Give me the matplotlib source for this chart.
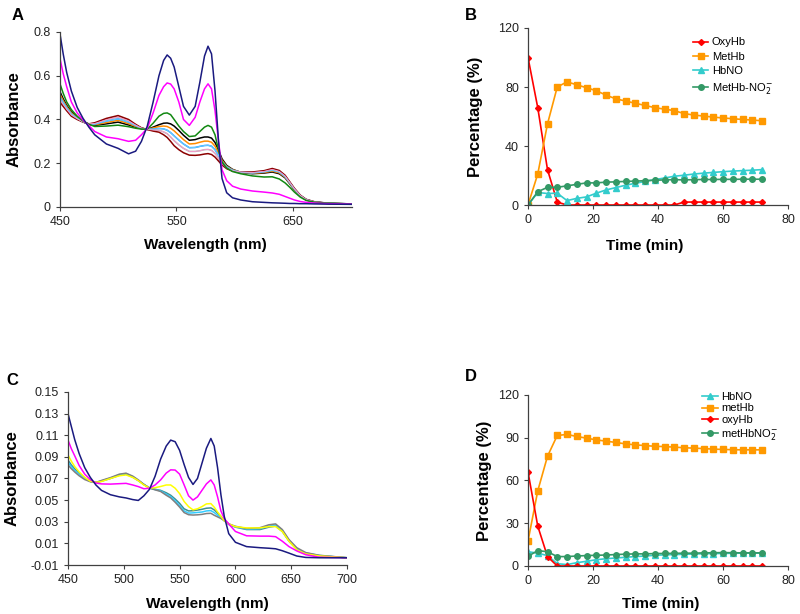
import matplotlib
matplotlib.use("Agg")
import matplotlib.pyplot as plt

plt.rcParams['font.family'] = ['Liberation Sans', 'DejaVu Sans']

# ---------------------------------------------------------------------------
# Panel A: espectros (absorbancia vs longitud de onda)
wl_a = [450, 453, 456, 460, 465, 470, 475, 480, 490, 500, 509, 515, 520, 525, 530,
        535, 539, 542, 545, 548, 552, 556, 561, 566, 570, 574, 577, 580, 583, 586,
        589, 593, 598, 605, 615, 625, 632, 638, 643, 647, 651, 656, 661, 668, 680, 700]
a_navy = [0.80, 0.70, 0.615, 0.53, 0.455, 0.405, 0.365, 0.33, 0.288, 0.268,
          0.243, 0.255, 0.30, 0.37, 0.48, 0.60, 0.67, 0.695, 0.68, 0.64,
          0.55, 0.46, 0.42, 0.46, 0.57, 0.69, 0.735, 0.70, 0.53, 0.30,
          0.13, 0.065, 0.042, 0.032, 0.024, 0.021, 0.019, 0.018, 0.017, 0.016,
          0.016, 0.015, 0.015, 0.014, 0.013, 0.012]
a_magenta = [0.685, 0.61, 0.55, 0.48, 0.43, 0.397, 0.372, 0.345, 0.32, 0.312,
             0.30, 0.305, 0.33, 0.36, 0.43, 0.51, 0.55, 0.567, 0.562, 0.54,
             0.48, 0.40, 0.373, 0.41, 0.48, 0.54, 0.563, 0.54, 0.44, 0.30,
             0.17, 0.12, 0.095, 0.082, 0.073, 0.068, 0.064, 0.058, 0.048, 0.040,
             0.032, 0.025, 0.021, 0.018, 0.015, 0.013]
a_green = [0.567, 0.52, 0.48, 0.445, 0.415, 0.393, 0.378, 0.368, 0.37, 0.374,
           0.367, 0.36, 0.356, 0.356, 0.383, 0.415, 0.428, 0.43, 0.422, 0.40,
           0.37, 0.345, 0.322, 0.325, 0.345, 0.365, 0.373, 0.365, 0.33, 0.26,
           0.205, 0.178, 0.162, 0.152, 0.142, 0.137, 0.138, 0.128, 0.11, 0.09,
           0.068, 0.045, 0.03, 0.022, 0.017, 0.014]
a_b1 = [0.530, 0.495, 0.465, 0.435, 0.410, 0.390, 0.378, 0.373, 0.380, 0.388,
        0.375, 0.365, 0.358, 0.355, 0.365, 0.376, 0.383, 0.384, 0.380, 0.370,
        0.350, 0.328, 0.305, 0.308, 0.315, 0.320, 0.320, 0.315, 0.295, 0.260,
        0.220, 0.190, 0.172, 0.158, 0.152, 0.155, 0.160, 0.152, 0.133, 0.106,
        0.078, 0.050, 0.032, 0.022, 0.016, 0.014]
a_b2 = [0.518, 0.486, 0.459, 0.430, 0.408, 0.390, 0.379, 0.376, 0.386, 0.396,
        0.381, 0.368, 0.359, 0.355, 0.361, 0.368, 0.370, 0.368, 0.360, 0.348,
        0.328, 0.308, 0.288, 0.290, 0.296, 0.301, 0.301, 0.296, 0.278, 0.248,
        0.213, 0.186, 0.170, 0.159, 0.154, 0.158, 0.164, 0.156, 0.136, 0.108,
        0.080, 0.051, 0.033, 0.023, 0.016, 0.014]
a_b3 = [0.505, 0.478, 0.453, 0.425, 0.405, 0.389, 0.379, 0.379, 0.393, 0.403,
        0.388, 0.372, 0.360, 0.355, 0.356, 0.359, 0.357, 0.351, 0.340, 0.325,
        0.306, 0.288, 0.271, 0.272, 0.277, 0.281, 0.282, 0.278, 0.262, 0.235,
        0.206, 0.183, 0.168, 0.159, 0.156, 0.161, 0.168, 0.160, 0.139, 0.111,
        0.082, 0.052, 0.034, 0.023, 0.017, 0.014]
a_b4 = [0.493, 0.469, 0.446, 0.420, 0.403, 0.389, 0.380, 0.382, 0.399, 0.411,
        0.394, 0.375, 0.361, 0.354, 0.352, 0.351, 0.343, 0.335, 0.320, 0.303,
        0.284, 0.268, 0.254, 0.254, 0.257, 0.262, 0.263, 0.259, 0.245, 0.223,
        0.199, 0.179, 0.166, 0.160, 0.158, 0.163, 0.172, 0.163, 0.142, 0.113,
        0.083, 0.053, 0.034, 0.024, 0.017, 0.014]
a_b5 = [0.480, 0.460, 0.440, 0.415, 0.400, 0.388, 0.380, 0.385, 0.405, 0.418,
        0.400, 0.378, 0.362, 0.354, 0.347, 0.342, 0.330, 0.318, 0.300, 0.280,
        0.262, 0.248, 0.237, 0.236, 0.238, 0.242, 0.244, 0.240, 0.228, 0.210,
        0.192, 0.175, 0.164, 0.160, 0.160, 0.166, 0.176, 0.167, 0.145, 0.115,
        0.085, 0.054, 0.035, 0.024, 0.017, 0.014]

# ---------------------------------------------------------------------------
# Panel C
wl_c = [450, 453, 456, 460, 465, 470, 475, 480, 488, 496, 502, 508, 513, 518, 523,
        528, 533, 538, 542, 546, 550, 554, 558, 562, 566, 570, 574, 578, 581, 584,
        587, 590, 594, 600, 610, 622, 630, 636, 642, 648, 655, 663, 675, 700]
c_navy = [0.130, 0.118, 0.106, 0.093, 0.080, 0.071, 0.064,
          0.059, 0.055, 0.053, 0.052, 0.0505,
          0.0497, 0.054, 0.060, 0.072, 0.088,
          0.100, 0.1055, 0.104, 0.096, 0.083,
          0.071, 0.0645, 0.070, 0.084, 0.098,
          0.107, 0.100, 0.080, 0.055, 0.035,
          0.019, 0.011, 0.007, 0.006, 0.0055,
          0.005, 0.0032, 0.001, -0.0017, -0.003,
          -0.0033, -0.0033]
c_magenta = [0.1055, 0.0975, 0.091, 0.082, 0.074, 0.069, 0.0658,
             0.065, 0.0648, 0.0652, 0.0655, 0.064,
             0.0625, 0.0605, 0.061, 0.064, 0.0687,
             0.075, 0.078, 0.0778, 0.074, 0.0642,
             0.054, 0.050, 0.053, 0.059, 0.065,
             0.0687, 0.064, 0.053, 0.040, 0.033,
             0.028, 0.021, 0.017, 0.0167, 0.0167,
             0.0162, 0.012, 0.007, 0.003, -0.0005,
             -0.0028, -0.0033]
c_yellow = [0.0917, 0.086, 0.081, 0.076, 0.071, 0.0675, 0.0665,
            0.0672, 0.070, 0.0725, 0.0733, 0.071,
            0.068, 0.064, 0.0612, 0.0615, 0.0626,
            0.064, 0.064, 0.061, 0.056, 0.0488,
            0.044, 0.041, 0.042, 0.044, 0.0465,
            0.0468, 0.0435, 0.039, 0.035, 0.031,
            0.028, 0.0255, 0.0243, 0.0243, 0.0255,
            0.0255, 0.021, 0.012, 0.004, 0.0003,
            -0.0016, -0.0033]
c_b1 = [0.087, 0.0825, 0.079, 0.075, 0.0705, 0.0675, 0.0663,
        0.0675, 0.0700, 0.0730, 0.0740, 0.0712,
        0.068, 0.0645, 0.0612, 0.060, 0.059,
        0.0568, 0.0545, 0.051, 0.047, 0.042,
        0.040, 0.0402, 0.0408, 0.0415, 0.0425,
        0.0428, 0.041, 0.038, 0.035, 0.031,
        0.0275, 0.025, 0.0228, 0.0228, 0.025,
        0.026, 0.021, 0.012, 0.0045, 0.0008,
        -0.0014, -0.0033]
c_b2 = [0.085, 0.081, 0.0775, 0.074, 0.070, 0.0672, 0.0663,
        0.0678, 0.0704, 0.0735, 0.0745, 0.0717,
        0.0683, 0.0645, 0.0612, 0.0598, 0.0585,
        0.0556, 0.0532, 0.0495, 0.045, 0.040,
        0.038, 0.0382, 0.0386, 0.039, 0.040,
        0.0403, 0.0385, 0.036, 0.034, 0.031,
        0.0278, 0.0254, 0.0232, 0.0236, 0.026,
        0.027, 0.0219, 0.0128, 0.005, 0.0012,
        -0.0012, -0.0033]
c_b3 = [0.0825, 0.079, 0.076, 0.0725, 0.069, 0.0670, 0.0663,
        0.0682, 0.0708, 0.0740, 0.0749, 0.0722,
        0.0687, 0.0645, 0.0612, 0.0595, 0.058,
        0.0545, 0.052, 0.048, 0.0435, 0.0385,
        0.0365, 0.0362, 0.0364, 0.0368, 0.0376,
        0.0378, 0.036, 0.0345, 0.033, 0.031,
        0.028, 0.0258, 0.0237, 0.0245, 0.0272,
        0.028, 0.0228, 0.0135, 0.006, 0.0015,
        -0.001, -0.0033]

# ---------------------------------------------------------------------------
# Paneles B y D: porcentajes vs tiempo
t_min = [0, 3, 6, 9, 12, 15, 18, 21, 24, 27, 30, 33, 36, 39, 42, 45, 48, 51, 54,
         57, 60, 63, 66, 69, 72]
oxy_b = [100, 66, 24, 2, 0, 0, 0, 0, 0, 0, 0, 0, 0, 0, 0, 0, 2, 2, 2, 2, 2, 2, 2, 2, 2]
met_b = [0, 21, 55, 80, 83.5, 81.5, 79.5, 77.5, 74.5, 72, 70.5, 69, 67.5, 66, 65, 64,
         62, 61, 60.3, 59.6, 59, 58.5, 58, 57.6, 57.1]
hbno_b = [0, 8.5, 7.8, 8, 3, 4.5, 5.5, 8, 10.2, 11.8, 13.4, 14.7, 16, 17.2, 18.3, 19.5,
          20.2, 21, 21.6, 22.1, 22.6, 23, 23.3, 23.6, 24]
no2_b = [0, 9, 12, 12, 13, 14, 15, 15, 15.5, 15.7, 16, 16.2, 16.5, 16.8, 17, 17.2, 17,
         17.2, 17.3, 17.3, 17.4, 17.4, 17.5, 17.5, 17.5]

hbno_d = [10, 9, 7.3, 1.6, 1, 2.3, 3.3, 4.4, 5.1, 5.6, 6.1, 6.6, 7, 7.5, 7.8, 8, 8.2,
          8.4, 8.6, 8.7, 8.8, 8.9, 9, 9, 9]
met_d = [17.5, 52.7, 77, 91.6, 92.3, 90.9, 89.7, 88.5, 87.6, 86.7, 85.7, 85, 84.5, 84,
         83.8, 83.4, 83, 82.7, 82.4, 82, 81.8, 81.6, 81.5, 81.5, 81.5]
oxy_d = [66, 28, 6.6, 0, 0, 0, 0, 0, 0, 0, 0, 0, 0, 0, 0, 0, 0, 0, 0, 0, 0, 0, 0, 0, 0]
no2_d = [6.8, 10.8, 10, 6.6, 6.6, 7, 7.3, 7.5, 7.7, 8, 8.3, 8.5, 8.5, 8.7, 8.8, 8.9, 9,
         9, 9.2, 9.3, 9.4, 9.3, 9.2, 9.2, 9.2]

yticks_a = [0, 0.2, 0.4, 0.6, 0.8]
ylabels_a = ['0', '0.2', '0.4', '0.6', '0.8']
xticks_a = [450, 550, 650]
yticks_c = [-0.01, 0.01, 0.03, 0.05, 0.07, 0.09, 0.11, 0.13, 0.15]
ylabels_c = ['-0.01', '0.01', '0.03', '0.05', '0.07', '0.09', '0.11', '0.13', '0.15']
xticks_c = [450, 500, 550, 600, 650, 700]
yticks_b = [0, 40, 80, 120]
yticks_d = [0, 30, 60, 90, 120]
xticks_t = [0, 20, 40, 60, 80]

# ---------------------------------------------------------------------------
fig = plt.figure(figsize=(8, 6.14), dpi=100)


def estilo(ax):
    for s in ['top', 'right']:
        ax.spines[s].set_visible(False)
    for s in ['left', 'bottom']:
        ax.spines[s].set_color('#404040')
        ax.spines[s].set_linewidth(0.9)
    ax.tick_params(direction='out', length=3, width=0.8, colors='#404040',
                   labelcolor='#222222', labelsize=9)


lw = 1.1

# A
axA = fig.add_axes([0.0746, 0.6629, 0.365, 0.285])
estilo(axA)
for y, c in [(a_b1, 'black'), (a_b2, '#FF8C00'), (a_b3, '#1E90FF'),
             (a_b4, '#B0B0B0'), (a_b5, '#8B0000')]:
    axA.plot(wl_a, y, color=c, lw=lw)
axA.plot(wl_a, a_b3, color='#66CCFF', lw=0.8)
axA.plot(wl_a, a_b4, color='#FF99CC', lw=0.6)
axA.plot(wl_a, a_green, color='#118811', lw=lw)
axA.plot(wl_a, a_magenta, color='#FF00FF', lw=lw)
axA.plot(wl_a, a_navy, color='#1A1A80', lw=lw)
axA.set_xlim(450, 700)
axA.set_ylim(0, 0.8)
axA.set_xticks(xticks_a)
axA.set_yticks(yticks_a)
axA.set_yticklabels(ylabels_a)
axA.set_ylabel('Absorbance', fontsize=12, fontweight='bold')
axA.yaxis.set_label_coords(-0.13, 0.5)
axA.set_xlabel('Wavelength (nm)', fontsize=11, fontweight='bold')
axA.xaxis.set_label_coords(0.5, -0.18)

# C
axC = fig.add_axes([0.085, 0.0798, 0.3488, 0.2818])
estilo(axC)
for y, c in [(c_b1, '#3F8F8F'), (c_b2, '#33CCFF'), (c_b3, '#808080')]:
    axC.plot(wl_c, y, color=c, lw=lw)
axC.plot(wl_c, c_yellow, color='#FFFF00', lw=lw)
axC.plot(wl_c, c_magenta, color='#FF00FF', lw=lw)
axC.plot(wl_c, c_navy, color='#1A1A80', lw=lw)
axC.set_xlim(450, 700)
axC.set_ylim(-0.01, 0.15)
axC.set_xticks(xticks_c)
axC.set_yticks(yticks_c)
axC.set_yticklabels(ylabels_c)
axC.set_ylabel('Absorbance', fontsize=12, fontweight='bold')
axC.yaxis.set_label_coords(-0.172, 0.5)
axC.set_xlabel('Wavelength (nm)', fontsize=11, fontweight='bold')
axC.xaxis.set_label_coords(0.5, -0.185)

# B
axB = fig.add_axes([0.66, 0.6661, 0.325, 0.2883])
estilo(axB)
axB.plot(t_min, oxy_b, color='#FF0000', marker='D', ms=3, lw=1.2, label='OxyHb')
axB.plot(t_min, met_b, color='#FF9900', marker='s', ms=4, lw=1.2, label='MetHb')
axB.plot(t_min, hbno_b, color='#33CCCC', marker='^', ms=4, lw=1.2, label='HbNO')
axB.plot(t_min, no2_b, color='#339966', marker='o', ms=4, lw=1.2,
         label='MetHb-NO$_2^{-}$')
axB.set_xlim(0, 80)
axB.set_ylim(0, 120)
axB.set_xticks(xticks_t)
axB.set_yticks(yticks_b)
axB.set_ylabel('Percentage (%)', fontsize=12, fontweight='bold')
axB.yaxis.set_label_coords(-0.173, 0.5)
axB.set_xlabel('Time (min)', fontsize=11, fontweight='bold')
axB.xaxis.set_label_coords(0.45, -0.19)
axB.legend(loc='upper left', bbox_to_anchor=(0.866, 0.939), bbox_transform=fig.transFigure,
           frameon=False, fontsize=8, handlelength=1.4, handletextpad=0.3,
           labelspacing=0.4, borderaxespad=0, borderpad=0)

# D
axD = fig.add_axes([0.66, 0.0782, 0.325, 0.2785])
estilo(axD)
axD.plot(t_min, hbno_d, color='#33CCCC', marker='^', ms=4, lw=1.2, label='HbNO')
axD.plot(t_min, met_d, color='#FF9900', marker='s', ms=4, lw=1.2, label='metHb')
axD.plot(t_min, oxy_d, color='#FF0000', marker='D', ms=3, lw=1.2, label='oxyHb')
axD.plot(t_min, no2_d, color='#339966', marker='o', ms=4, lw=1.2,
         label='metHbNO$_2^{-}$')
axD.set_xlim(0, 80)
axD.set_ylim(0, 120)
axD.set_xticks(xticks_t)
axD.set_yticks(yticks_d)
axD.set_ylabel('Percentage (%)', fontsize=12, fontweight='bold')
axD.yaxis.set_label_coords(-0.14, 0.5)
axD.set_xlabel('Time (min)', fontsize=11, fontweight='bold')
axD.xaxis.set_label_coords(0.51, -0.18)
axD.legend(loc='upper left', bbox_to_anchor=(0.878, 0.362), bbox_transform=fig.transFigure,
           frameon=False, fontsize=8, handlelength=1.4, handletextpad=0.3,
           labelspacing=0.15, borderaxespad=0, borderpad=0)

# Letras de panel
fig.text(0.015, 0.974, 'A', fontsize=12, fontweight='bold', va='center', ha='left')
fig.text(0.581, 0.975, 'B', fontsize=12, fontweight='bold', va='center', ha='left')
fig.text(0.008, 0.381, 'C', fontsize=12, fontweight='bold', va='center', ha='left')
fig.text(0.581, 0.386, 'D', fontsize=12, fontweight='bold', va='center', ha='left')

fig.savefig('out.png', dpi=100, facecolor='white')
